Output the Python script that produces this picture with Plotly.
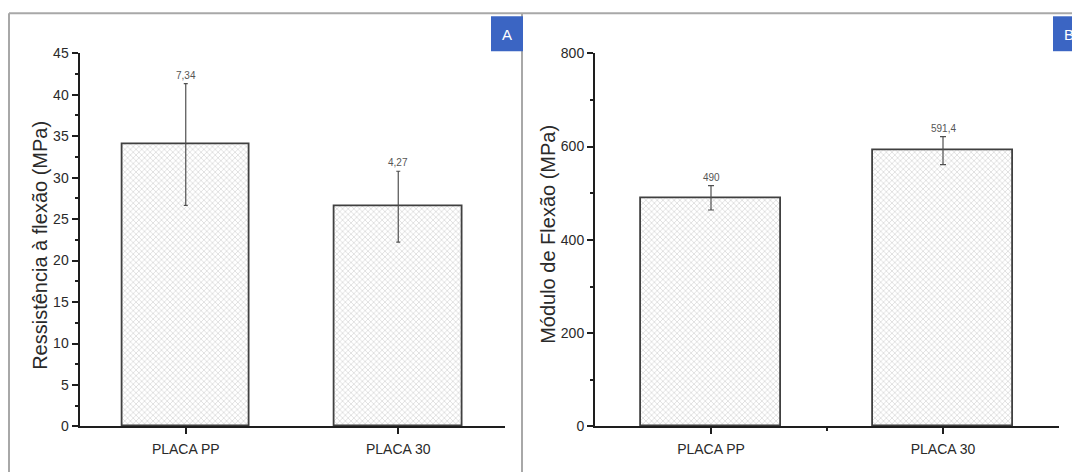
import plotly.graph_objects as go

# ---- data ----
categories = ["PLACA PP", "PLACA 30"]
resist_mean = [34.0, 26.5]
resist_sd = [7.34, 4.27]
resist_labels = ["7,34", "4,27"]
modulo_mean = [490, 591.4]
modulo_sd = [26, 30]
modulo_labels = ["490", "591,4"]

W, H = 1072, 472
# vertical calibration of the capture (observed: screen_y = 6.7 + 0.968 * page_y)
CY0, CYK = 6.7, 0.968


def px(x):
    return x / W


def py(y):
    page = (y - CY0) / CYK
    return 1 - page / H


xpos = list(range(len(categories)))
mids = [(a + b) / 2 for a, b in zip(xpos[:-1], xpos[1:])]

FONT = "Liberation Sans, Arial, sans-serif"
AXC = "#1e1e1e"
pattern = dict(shape="x", size=4, fgcolor="#b4b4b4", bgcolor="white", solidity=0.35)

fig = go.Figure()
fig.add_trace(go.Bar(
    x=xpos, y=resist_mean, width=0.6, xaxis="x", yaxis="y", showlegend=False,
    marker=dict(color="white", line=dict(color="#404040", width=1.8), pattern=pattern),
    error_y=dict(type="data", array=resist_sd, color="#505050", thickness=1.2, width=2),
))
fig.add_trace(go.Bar(
    x=xpos, y=modulo_mean, width=0.6, xaxis="x2", yaxis="y2", showlegend=False,
    marker=dict(color="white", line=dict(color="#404040", width=1.8), pattern=pattern),
    error_y=dict(type="data", array=modulo_sd, color="#505050", thickness=1.2, width=3),
))

common_x = dict(
    range=[-0.5, len(categories) - 0.5], tickmode="array", tickvals=xpos, ticktext=categories,
    ticks="outside", ticklen=6, tickwidth=1.5, tickcolor=AXC, showline=True, linecolor=AXC,
    linewidth=2, showgrid=False, zeroline=False, ticklabelstandoff=3,
    tickfont=dict(family=FONT, size=14, color="#2a2a2a"),
)
common_y = dict(
    ticks="outside", ticklen=6, tickwidth=1.5, tickcolor=AXC, showline=True, linecolor=AXC,
    linewidth=2, showgrid=False, zeroline=False,
    tickfont=dict(family=FONT, size=14, color="#2a2a2a"),
)

ydom = [py(426), py(52)]

fig.update_layout(
    width=W, height=H, margin=dict(l=0, r=0, t=0, b=0),
    paper_bgcolor="white", plot_bgcolor="white", bargap=0,
    xaxis=dict(domain=[px(79.5), px(504.5)], anchor="y", **common_x),
    yaxis=dict(domain=ydom, anchor="x", range=[0, 45], dtick=5,
               minor=dict(dtick=2.5, ticks="outside", ticklen=3, tickcolor=AXC, tickwidth=1.5),
               **common_y),
    xaxis2=dict(domain=[px(595), px(1059)], anchor="y2",
                minor=dict(tickmode="array", tickvals=mids, ticks="outside", ticklen=3,
                           tickcolor=AXC, tickwidth=1.5),
                **common_x),
    yaxis2=dict(domain=ydom, anchor="x2", range=[0, 800], dtick=200,
                minor=dict(dtick=100, ticks="outside", ticklen=3, tickcolor=AXC, tickwidth=1.5),
                **common_y),
)

# value labels above error bars
for x, m, s, lab in zip(xpos, resist_mean, resist_sd, resist_labels):
    fig.add_annotation(x=x, y=m + s, xref="x", yref="y", text=lab, showarrow=False,
                       xanchor="center", yanchor="bottom", yshift=1,
                       font=dict(family=FONT, size=10, color="#555"))
for x, m, s, lab in zip(xpos, modulo_mean, modulo_sd, modulo_labels):
    fig.add_annotation(x=x, y=m + s, xref="x2", yref="y2", text=lab, showarrow=False,
                       xanchor="center", yanchor="bottom", yshift=1,
                       font=dict(family=FONT, size=10, color="#555"))

# axis titles
fig.add_annotation(x=px(40), y=py(245), xref="paper", yref="paper", text="Ressistência à flexão (MPa)",
                   textangle=-90, showarrow=False, xanchor="center", yanchor="middle",
                   font=dict(family=FONT, size=20, color="#2a2a2a"))
fig.add_annotation(x=px(548), y=py(234), xref="paper", yref="paper", text="Módulo de Flexão (MPa)",
                   textangle=-90, showarrow=False, xanchor="center", yanchor="middle",
                   font=dict(family=FONT, size=20, color="#2a2a2a"))

# panel frames
FR = "#a8a8a8"
fig.add_shape(type="line", xref="paper", yref="paper", x0=px(9), x1=px(1072), y0=py(12), y1=py(12),
              line=dict(color=FR, width=2))
fig.add_shape(type="line", xref="paper", yref="paper", x0=px(9), x1=px(9), y0=py(12), y1=py(480),
              line=dict(color=FR, width=2))
fig.add_shape(type="line", xref="paper", yref="paper", x0=px(522), x1=px(522), y0=py(12), y1=py(480),
              line=dict(color=FR, width=2))

# panel letter boxes
BLUE = "#3b65c3"
fig.add_shape(type="rect", xref="paper", yref="paper", x0=px(491), x1=px(523), y0=py(50), y1=py(15),
              fillcolor=BLUE, line=dict(width=0))
fig.add_shape(type="rect", xref="paper", yref="paper", x0=px(1053), x1=px(1072), y0=py(50), y1=py(15),
              fillcolor=BLUE, line=dict(width=0))
fig.add_annotation(x=px(507), y=py(33), xref="paper", yref="paper", text="A", showarrow=False,
                   xanchor="center", yanchor="middle", font=dict(family=FONT, size=15, color="white"))
fig.add_annotation(x=px(1062), y=py(33), xref="paper", yref="paper", text="B", showarrow=False,
                   xanchor="left", yanchor="middle", font=dict(family=FONT, size=15, color="white"))

css_fix = (
    "var s=document.createElement('style');"
    "s.textContent='html,body{margin:0!important;padding:0!important;overflow:hidden!important;}';"
    "document.head.appendChild(s);"
)

fig.write_html("out.html", config={"displayModeBar": False}, post_script=css_fix)
